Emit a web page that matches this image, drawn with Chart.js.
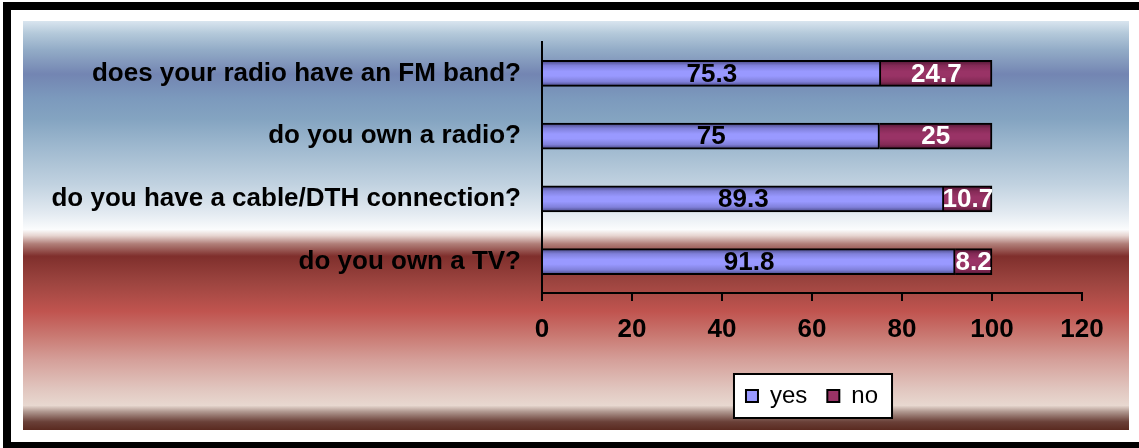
<!DOCTYPE html>
<html>
<head>
<meta charset="utf-8">
<title>Radio and TV ownership</title>
<script src="https://cdn.jsdelivr.net/npm/chart.js@4/dist/chart.umd.min.js"></script>
<style>
  html, body { margin: 0; padding: 0; background: #fff; }
  #wrap { width: 1139px; height: 448px; }
</style>
</head>
<body>
<div id="wrap"><canvas id="survey" width="1139" height="448"></canvas></div>
<script>
var questions = [
  'does your radio have an FM band?',
  'do you own a radio?',
  'do you have a cable/DTH connection?',
  'do you own a TV?'
];
var yesValues = [75.3, 75, 89.3, 91.8];
var noValues = [24.7, 25, 10.7, 8.2];
var xTicks = [0, 20, 40, 60, 80, 100, 120];

var FONT = '"Liberation Sans", Arial, Helvetica, sans-serif';
var BAR_THICKNESS = 26;

Chart.defaults.font.family = FONT;
Chart.defaults.color = '#000';

// vertical shading on each bar, lighter through the middle
function barFill(dark, mid, light) {
  return function (c) {
    var chart = c.chart;
    var scale = chart.scales && chart.scales.y;
    if (c.type !== 'data' || !scale || !chart.chartArea) return light;
    var y = scale.getPixelForValue(c.dataIndex);
    var h = BAR_THICKNESS / 2;
    var g = chart.ctx.createLinearGradient(0, y - h, 0, y + h);
    g.addColorStop(0, dark);
    g.addColorStop(0.2, mid);
    g.addColorStop(0.42, light);
    g.addColorStop(0.6, light);
    g.addColorStop(0.82, mid);
    g.addColorStop(1, dark);
    return g;
  };
}

// frame, banded backdrop and the white legend panel
var backdrop = {
  id: 'backdrop',
  beforeDraw: function (chart) {
    var ctx = chart.ctx;
    var w = chart.width, h = chart.height;
    ctx.save();
    ctx.fillStyle = '#fff';
    ctx.fillRect(0, 0, w, h);

    var top = 21, bottom = 430, left = 23, right = 1129;
    var g = ctx.createLinearGradient(0, top, 0, bottom);
    var bands = [
      [0, '#d9e5ef'], [0.03, '#b4c9da'], [0.07, '#93acc7'], [0.13, '#7385b2'],
      [0.19, '#7c9abd'], [0.24, '#84a4c1'], [0.31, '#9fb9cf'], [0.4, '#c1d2e0'],
      [0.47, '#e3eaf1'], [0.51, '#fbfcfd'], [0.525, '#e6d4d0'], [0.545, '#b07e78'],
      [0.575, '#7f2f2c'], [0.64, '#9d4540'], [0.71, '#c0544f'], [0.77, '#c97972'],
      [0.83, '#d5a09a'], [0.9, '#e1c6bf'], [0.94, '#e8d8d0'], [0.955, '#b09890'],
      [0.98, '#6a4038'], [1, '#5a2a20']
    ];
    bands.forEach(function (b) { g.addColorStop(b[0], b[1]); });
    ctx.fillStyle = g;
    ctx.fillRect(left, top, right - left, bottom - top);

    // thick black frame, its right edge runs off the canvas
    ctx.strokeStyle = '#000';
    ctx.lineWidth = 8;
    ctx.strokeRect(7, 6, w + 20, h - 8);

    var boxes = chart.legend && chart.legend.legendHitBoxes;
    if (boxes && boxes.length) {
      var first = boxes[0], last = boxes[boxes.length - 1];
      var lx = first.left - 12, rx = last.left + last.width + 14;
      var ty = first.top - 10, by = first.top + first.height + 10;
      ctx.fillStyle = '#fff';
      ctx.fillRect(lx, ty, rx - lx, by - ty);
      ctx.lineWidth = 2;
      ctx.strokeRect(lx, ty, rx - lx, by - ty);
    }
    ctx.restore();
  }
};

// value written in the middle of each bar segment
var valueLabels = {
  id: 'valueLabels',
  afterDatasetsDraw: function (chart) {
    var ctx = chart.ctx;
    ctx.save();
    ctx.font = 'bold 26px ' + FONT;
    ctx.textAlign = 'center';
    ctx.textBaseline = 'middle';
    chart.data.datasets.forEach(function (ds, i) {
      var meta = chart.getDatasetMeta(i);
      ctx.fillStyle = ds.labelColor;
      meta.data.forEach(function (bar, j) {
        var p = bar.getProps(['x', 'y', 'base'], true);
        ctx.fillText(String(ds.data[j]), (p.x + p.base) / 2, p.y + 1);
      });
    });
    ctx.restore();
  }
};

new Chart(document.getElementById('survey'), {
  type: 'bar',
  data: {
    labels: questions,
    datasets: [{
      label: 'yes',
      data: yesValues,
      backgroundColor: barFill('#45457e', '#8080da', '#9999ff'),
      swatch: '#9999ff',
      borderColor: '#000',
      borderWidth: 2,
      barThickness: BAR_THICKNESS,
      labelColor: '#000'
    }, {
      label: 'no',
      data: noValues,
      backgroundColor: barFill('#4e1632', '#842a56', '#993366'),
      swatch: '#993366',
      borderColor: '#000',
      borderWidth: 2,
      barThickness: BAR_THICKNESS,
      labelColor: '#fff'
    }]
  },
  options: {
    indexAxis: 'y',
    responsive: false,
    animation: false,
    layout: { padding: { left: 23, right: 57, top: 42, bottom: 30 } },
    scales: {
      y: {
        stacked: true,
        grid: { display: false, drawTicks: false },
        border: { display: true, color: '#000', width: 2 },
        ticks: { font: { size: 26, weight: 'bold' }, color: '#000', padding: 21 },
        afterFit: function (scale) { scale.width = 519; }
      },
      x: {
        stacked: true,
        min: xTicks[0],
        max: xTicks[xTicks.length - 1],
        afterBuildTicks: function (scale) {
          scale.ticks = xTicks.map(function (v) { return { value: v }; });
        },
        grid: { display: true, drawOnChartArea: false, drawTicks: true, tickLength: 8, color: '#000', lineWidth: 2 },
        border: { display: true, color: '#000', width: 2 },
        ticks: { font: { size: 26, weight: 'bold' }, color: '#000', padding: 13, maxRotation: 0 },
        afterFit: function (scale) { scale.height = 71; }
      }
    },
    plugins: {
      legend: {
        position: 'bottom',
        fullSize: false,
        labels: {
          font: { size: 24 },
          color: '#000',
          boxWidth: 12,
          boxHeight: 12,
          padding: 20,
          generateLabels: function (chart) {
            var items = Chart.defaults.plugins.legend.labels.generateLabels(chart);
            items.forEach(function (item) {
              item.fillStyle = chart.data.datasets[item.datasetIndex].swatch;
              item.strokeStyle = '#000';
              item.lineWidth = 2;
            });
            return items;
          }
        }
      },
      tooltip: { enabled: false }
    }
  },
  plugins: [backdrop, valueLabels]
});
</script>
</body>
</html>
